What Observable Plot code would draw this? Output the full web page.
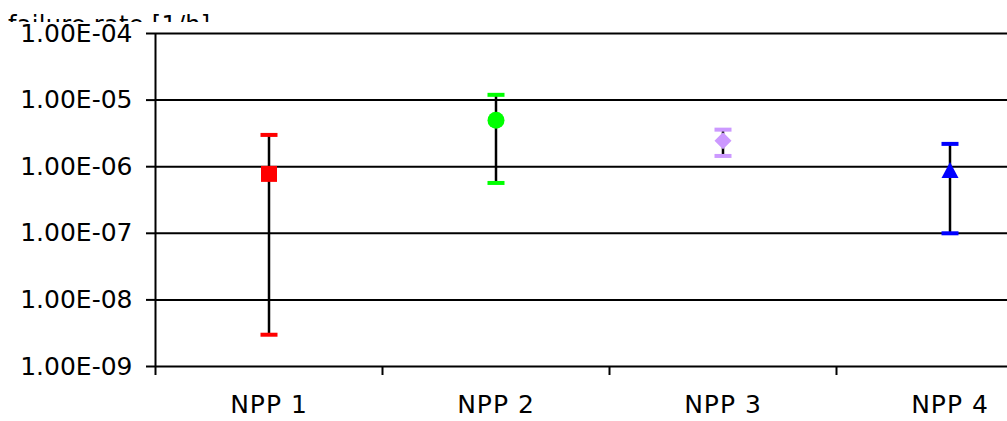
<!DOCTYPE html>
<html>
<head>
<meta charset="utf-8">
<script src="https://cdn.jsdelivr.net/npm/d3@7"></script>
<script src="https://cdn.jsdelivr.net/npm/@observablehq/plot@0.6"></script>
<style>
  html, body { margin: 0; padding: 0; background: white; overflow: hidden; }
  #wrap { position: relative; width: 1007px; height: 421px; overflow: hidden; }
  #titleClip { position: absolute; left: 8px; top: 0; height: 22px; overflow: hidden; }
  #title { padding-top: 10.7px; line-height: 24px; font: 24px "DejaVu Sans"; letter-spacing: 0.3px; white-space: nowrap; color: black; }
  #chart { position: absolute; left: 0; top: 0; }
  #chart g[aria-label="x-axis tick label"] text { letter-spacing: 1px; }
</style>
</head>
<body>
<div id="wrap">
  <div id="titleClip"><div id="title">failure rate [1/h]</div></div>
  <div id="chart"></div>
</div>
<script>
const categories = ["NPP 1", "NPP 2", "NPP 3", "NPP 4"];
const meanRate  = [7.8e-7, 5.0e-6, 2.45e-6, 8.8e-7];
const upperRate = [3.0e-6, 1.2e-5, 3.6e-6, 2.2e-6];
const lowerRate = [3.0e-9, 5.7e-7, 1.45e-6, 1.0e-7];
const seriesColors = ["#FF0000", "#00FF00", "#CC99FF", "#0000FF"];
const markerShapes = ["square", "circle", "diamond", "triangle"];
const yTicks = [1e-9, 1e-8, 1e-7, 1e-6, 1e-5, 1e-4];
const xBoundaryTicks = [0.5, 1.5, 2.5, 3.5];
const xLabelTicks = [1, 2, 3, 4];

const symbols = {
  square:   {draw(c) { c.rect(-8, -8, 16, 16); }},
  circle:   {draw(c) { c.moveTo(8.5, 0); c.arc(0, 0, 8.5, 0, 2 * Math.PI); }},
  diamond:  {draw(c) { c.moveTo(0, -8.5); c.lineTo(8.5, 0); c.lineTo(0, 8.5); c.lineTo(-8.5, 0); c.closePath(); }},
  triangle: {draw(c) { c.moveTo(0, -8.5); c.lineTo(8.5, 7.5); c.lineTo(-8.5, 7.5); c.closePath(); }},
  cap:      {draw(c) { c.rect(-8.5, -2, 17, 4); }}
};

const data = categories.map((cat, i) => ({
  cat, pos: i + 1, mean: meanRate[i], hi: upperRate[i], lo: lowerRate[i],
  color: seriesColors[i], shape: markerShapes[i]
}));

function fmt(d) {
  const e = Math.round(Math.log10(d));
  const m = d / Math.pow(10, e);
  const sign = e < 0 ? "-" : "+";
  return m.toFixed(2) + "E" + sign + String(Math.abs(e)).padStart(2, "0");
}

const marks = [
  Plot.ruleY(yTicks.slice(1), {stroke: "black", strokeWidth: 2}),
  Plot.ruleY([yTicks[0]], {stroke: "black", strokeWidth: 2}),
  Plot.ruleX([0.5], {stroke: "black", strokeWidth: 2}),
  Plot.axisY(yTicks, {tickSize: 9, tickPadding: 14, tickFormat: fmt, fontSize: 25, strokeWidth: 2, label: null}),
  Plot.axisX(xBoundaryTicks, {tickSize: 9, tickFormat: () => "", strokeWidth: 2, label: null}),
  Plot.axisX(xLabelTicks, {tickSize: 0, tickPadding: 29, tickFormat: d => categories[d - 1], fontSize: 25, label: null}),
  Plot.ruleX(data, {x: "pos", y1: "lo", y2: "hi", stroke: "black", strokeWidth: 2.5})
];
data.forEach(d => {
  marks.push(Plot.dot([d], {x: "pos", y: "hi", symbol: symbols.cap, fill: d.color, stroke: "none"}));
  marks.push(Plot.dot([d], {x: "pos", y: "lo", symbol: symbols.cap, fill: d.color, stroke: "none"}));
  marks.push(Plot.dot([d], {x: "pos", y: "mean", symbol: symbols[d.shape], fill: d.color, stroke: "none"}));
});

const chart = Plot.plot({
  width: 1007,
  height: 421,
  marginLeft: 155,
  marginRight: 0,
  marginTop: 33,
  marginBottom: 55,
  style: {fontFamily: "DejaVu Sans", fontSize: "25px", color: "black", background: "transparent", overflow: "hidden"},
  x: {type: "linear", domain: [0.5, 4.5], range: [155, 1063], label: null},
  y: {type: "log", domain: [1e-9, 1e-4], label: null},
  marks
});
document.getElementById("chart").appendChild(chart);
</script>
</body>
</html>
